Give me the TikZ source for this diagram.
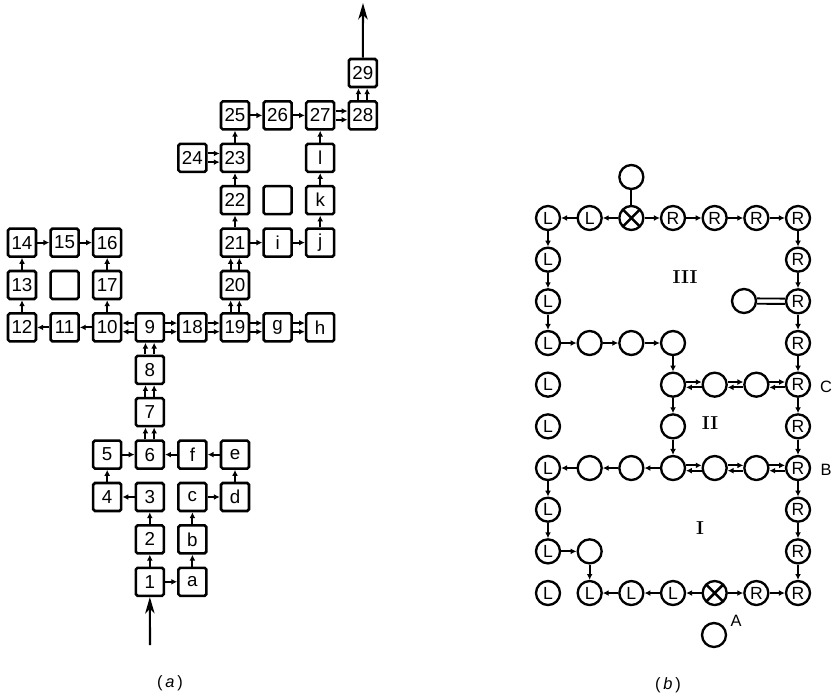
\documentclass[tikz,border=0pt]{standalone}
\usepackage{fontspec}
\setsansfont{Liberation Sans}
\usetikzlibrary{arrows.meta,calc}

\tikzset{
  box/.style={draw, line width=2.2pt, rounded corners=1.5pt, minimum size=0.84cm,
    inner sep=0pt, fill=white, font=\sffamily\fontsize{16}{16}\selectfont},
  disc/.style={circle, draw, line width=2pt, minimum size=0.72cm, inner sep=0pt,
    fill=white, font=\sffamily\fontsize{15}{15}\selectfont},
  crossdisc/.style={disc, path picture={
    \draw[line width=2.2pt] (path picture bounding box.north west) -- (path picture bounding box.south east)
      (path picture bounding box.north east) -- (path picture bounding box.south west);}},
  link/.style={line width=1.7pt, -{Latex[length=5pt,width=5pt]}},
  twin/.style={link, shorten >=0.46cm, shorten <=0.46cm},
  ring/.style={line width=1.6pt, shorten >=0.39cm, shorten <=0.39cm},
  flow/.style={line width=1.8pt, -{Stealth[length=14pt,width=8pt,inset=4pt]}},
  caption/.style={font=\sffamily\fontsize{14}{14}\selectfont},
  zone/.style={font=\rmfamily\bfseries\fontsize{16}{16}\selectfont}
}

\begin{document}
\begin{tikzpicture}[x=0.03cm, y=-0.03cm]
  \useasboundingbox (0,0) rectangle (832,696);

  % (a) the boxes
  \foreach \t/\c/\r in {29/8/0, 25/5/1, 26/6/1, 27/7/1, 28/8/1, 24/4/2, 23/5/2, l/7/2,
      22/5/3, k/7/3, 14/0/4, 15/1/4, 16/2/4, 21/5/4, i/6/4, j/7/4, 13/0/5, 17/2/5, 20/5/5,
      12/0/6, 11/1/6, 10/2/6, 9/3/6, 18/4/6, 19/5/6, g/6/6, h/7/6, 8/3/7, 7/3/8,
      5/2/9, 6/3/9, f/4/9, e/5/9, 4/2/10, 3/3/10, c/4/10, d/5/10, 2/3/11, b/4/11, 1/3/12, a/4/12}
    \node[box] (n\t) at ({22+42.6*\c},{73+42.4*\r}) {\t};
  \node[box] (blankA) at ({22+42.6*6},{73+42.4*3}) {};
  \node[box] (blankB) at ({22+42.6*1},{73+42.4*5}) {};

  \foreach \p/\q in {1/a, a/b, b/c, c/d, d/e, e/f, f/6, 1/2, 2/3, 3/4, 4/5, 5/6,
      10/11, 11/12, 12/13, 13/14, 14/15, 15/16, 10/17, 17/16,
      21/22, 22/23, 23/25, 25/26, 26/27, 21/i, i/j, j/k, k/l, l/27}
    \draw[link] (n\p) -- (n\q);

  % double passages
  \foreach \p/\q in {6/7, 7/8, 8/9, 9/10, 9/18, 18/19, 19/g, g/h, 19/20, 20/21, 24/23, 27/28, 28/29} {
    \draw[twin] ($(n\p)!0.13cm!90:(n\q)$) -- ($(n\q)!0.13cm!-90:(n\p)$);
    \draw[twin] ($(n\p)!0.13cm!-90:(n\q)$) -- ($(n\q)!0.13cm!90:(n\p)$);
  }

  \coordinate (inlet) at (150,645);
  \coordinate (outlet) at (363,3);
  \draw[flow] (inlet) -- (n1);
  \draw[flow] (n29) -- (outlet);
  \node[caption] (capA) at (170,683) {(\,\textit{a}\,)};

  % (b) the circles
  \foreach \c/\r in {0/0, 1/0, 0/1, 0/2, 0/3, 0/4, 0/5, 0/6, 0/7, 0/8, 0/9, 1/9, 2/9, 3/9}
    \node[disc] (b\c\r) at ({548+41.67*\c},{218+41.67*\r}) {L};
  \foreach \c/\r in {3/0, 4/0, 5/0, 6/0, 6/1, 6/2, 6/3, 6/4, 6/5, 6/6, 6/7, 6/8, 6/9, 5/9}
    \node[disc] (b\c\r) at ({548+41.67*\c},{218+41.67*\r}) {R};
  \foreach \c/\r in {1/3, 2/3, 3/3, 3/4, 4/4, 5/4, 3/5, 1/6, 2/6, 3/6, 4/6, 5/6, 1/8}
    \node[disc] (b\c\r) at ({548+41.67*\c},{218+41.67*\r}) {};
  \node[crossdisc] (b20) at ({548+41.67*2},218) {};
  \node[crossdisc] (b49) at ({548+41.67*4},{218+41.67*9}) {};
  \node[disc] (btop) at ({548+41.67*2},177) {};
  \node[disc] (b52) at (744,301) {};
  \node[disc] (bA) at (714,635) {};

  \draw[line width=1.6pt] (btop) -- (b20);
  \foreach \p/\q in {b20/b10, b10/b00, b20/b30, b30/b40, b40/b50, b50/b60,
      b00/b01, b01/b02, b02/b03, b03/b13, b13/b23, b23/b33, b33/b34, b34/b35, b35/b36,
      b36/b26, b26/b16, b16/b06, b06/b07, b07/b08, b08/b18, b18/b19,
      b49/b39, b39/b29, b29/b19, b49/b59, b59/b69,
      b60/b61, b61/b62, b62/b63, b63/b64, b64/b65, b65/b66, b66/b67, b67/b68, b68/b69}
    \draw[link] (\p) -- (\q);

  \foreach \p/\q in {b34/b44, b44/b54, b54/b64, b36/b46, b46/b56, b56/b66} {
    \draw[ring, -{Latex[length=5pt,width=5pt]}] ($(\p)!0.08cm!90:(\q)$) -- ($(\q)!0.08cm!-90:(\p)$);
    \draw[ring, -{Latex[length=5pt,width=5pt]}] ($(\q)!0.08cm!90:(\p)$) -- ($(\p)!0.08cm!-90:(\q)$);
  }
  \draw[ring] ($(b52)!0.08cm!90:(b62)$) -- ($(b62)!0.08cm!-90:(b52)$);
  \draw[ring] ($(b52)!0.08cm!-90:(b62)$) -- ($(b62)!0.08cm!90:(b52)$);

  \node[zone] (III) at (685,277) {III};
  \node[zone] (II) at (710,423) {II};
  \node[zone] (I) at (700,528) {I};
  \node[caption] (labC) at (826,387) {C};
  \node[caption] (labB) at (826,470) {B};
  \node[caption] (labA) at (736,621) {A};
  \node[caption] (capB) at (668,685) {(\,\textit{b}\,)};
\end{tikzpicture}
\end{document}
